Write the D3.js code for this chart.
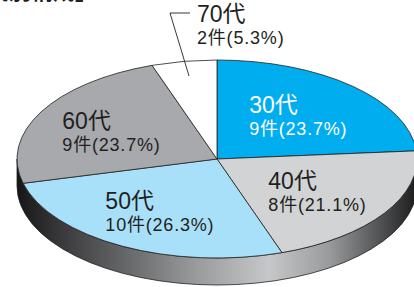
<!DOCTYPE html>
<html>
<head>
<meta charset="utf-8">
<script src="https://cdn.jsdelivr.net/npm/d3@7"></script>
<style>
  body { margin: 0; background: #fff; }
  svg { display: block; }
  text { font-family: "Liberation Sans", "Noto Sans CJK JP", sans-serif; }
</style>
</head>
<body>
<div id="chart"></div>
<script>
// data
const categories = ["30代", "40代", "50代", "60代", "70代"];
const counts = [9, 8, 10, 9, 2];
const percents = [23.7, 21.1, 26.3, 23.7, 5.3];

// styles
const fills = ["#00adee", "#d1d3d4", "#a9e0f9", "#a7a9ac", "#ffffff"];
const textColors = ["#ffffff", "#231f20", "#231f20", "#231f20", "#231f20"];

const width = 414, height = 287;
const cx = 217, cy = 159, rx = 200, ry = 99, depth = 27;

const svg = d3.select("#chart").append("svg")
    .attr("width", width)
    .attr("height", height);

// gradient for the side of the disc
let grad = svg.append("defs").append("linearGradient")
    .attr("id", "side")
    .attr("gradientUnits", "userSpaceOnUse")
    .attr("x1", cx - rx).attr("x2", cx + rx)
    .attr("y1", 0).attr("y2", 0);
[[0, "#161616"], [0.12, "#3c3c3e"], [0.3, "#6e6f71"], [0.45, "#9a9b9d"],
 [0.63, "#c6c7c9"], [0.78, "#9a9b9d"], [0.9, "#555658"], [1, "#1c1c1c"]]
    .forEach(s => grad.append("stop").attr("offset", s[0]).attr("stop-color", s[1]));

// title (cut off at top)
svg.append("text")
    .attr("x", 97).attr("y", -1.5)
    .attr("text-anchor", "end")
    .style("font-size", "22px")
    .style("font-weight", "bold")
    .attr("fill", "#231f20")
    .text("年代別構成」");

// side of disc
svg.append("path")
    .attr("d", `M${cx - rx},${cy} A${rx},${ry} 0 0 0 ${cx + rx},${cy} L${cx + rx},${cy + depth} A${rx},${ry} 0 0 1 ${cx - rx},${cy + depth} Z`)
    .attr("fill", "url(#side)")
    .attr("stroke", "#231f20")
    .attr("stroke-width", 0.8);

// pie slices
let pie = d3.pie().value(d => d).sort(null);
let arcs = pie(counts);
let arc = d3.arc().innerRadius(0).outerRadius(rx);

let topFace = svg.append("g")
    .attr("transform", `translate(${cx},${cy}) scale(1,${ry / rx})`);

topFace.selectAll(".slice")
    .data(arcs)
    .enter()
    .append("path")
    .attr("class", "slice")
    .attr("d", arc)
    .attr("fill", (d, i) => fills[i])
    .attr("stroke", "#231f20")
    .attr("stroke-width", 0.8)
    .attr("vector-effect", "non-scaling-stroke");

function ellipsePoint(a, f) {
    return [cx + f * rx * Math.sin(a), cy - f * ry * Math.cos(a)];
}

function addLabel(g, x, y, i) {
    let t1 = g.append("text")
        .attr("x", x).attr("y", y)
        .attr("fill", textColors[i])
        .style("font-size", "23px")
        .text(categories[i]);
    let t2 = g.append("text")
        .attr("x", x).attr("y", y + 22)
        .attr("fill", textColors[i])
        .style("font-size", "18px")
        .style("letter-spacing", "0.8px")
        .text(`${counts[i]}件(${percents[i]}%)`);
    return t2.node().getComputedTextLength();
}

// labels inside slices
let labels = svg.append("g");
arcs.forEach((d, i) => {
    if (i === 4) return;
    let mid = (d.startAngle + d.endAngle) / 2;
    let p = ellipsePoint(mid, 0.6);
    let g = labels.append("g");
    let w = addLabel(g, 0, p[1] - 2, i);
    g.selectAll("text").attr("x", p[0] - w / 2);
});

// 70代 label with leader line
let d70 = arcs[4];
let mid70 = (d70.startAngle + d70.endAngle) / 2;
let end = ellipsePoint(mid70, 0.85);
let elbow = [170, 13];
svg.append("path")
    .attr("d", `M${end[0]},${end[1]} L${elbow[0]},${elbow[1]} L${elbow[0] + 20},${elbow[1]}`)
    .attr("fill", "none")
    .attr("stroke", "#231f20")
    .attr("stroke-width", 0.9);
addLabel(svg.append("g"), 197, 22, 4);
</script>
</body>
</html>
